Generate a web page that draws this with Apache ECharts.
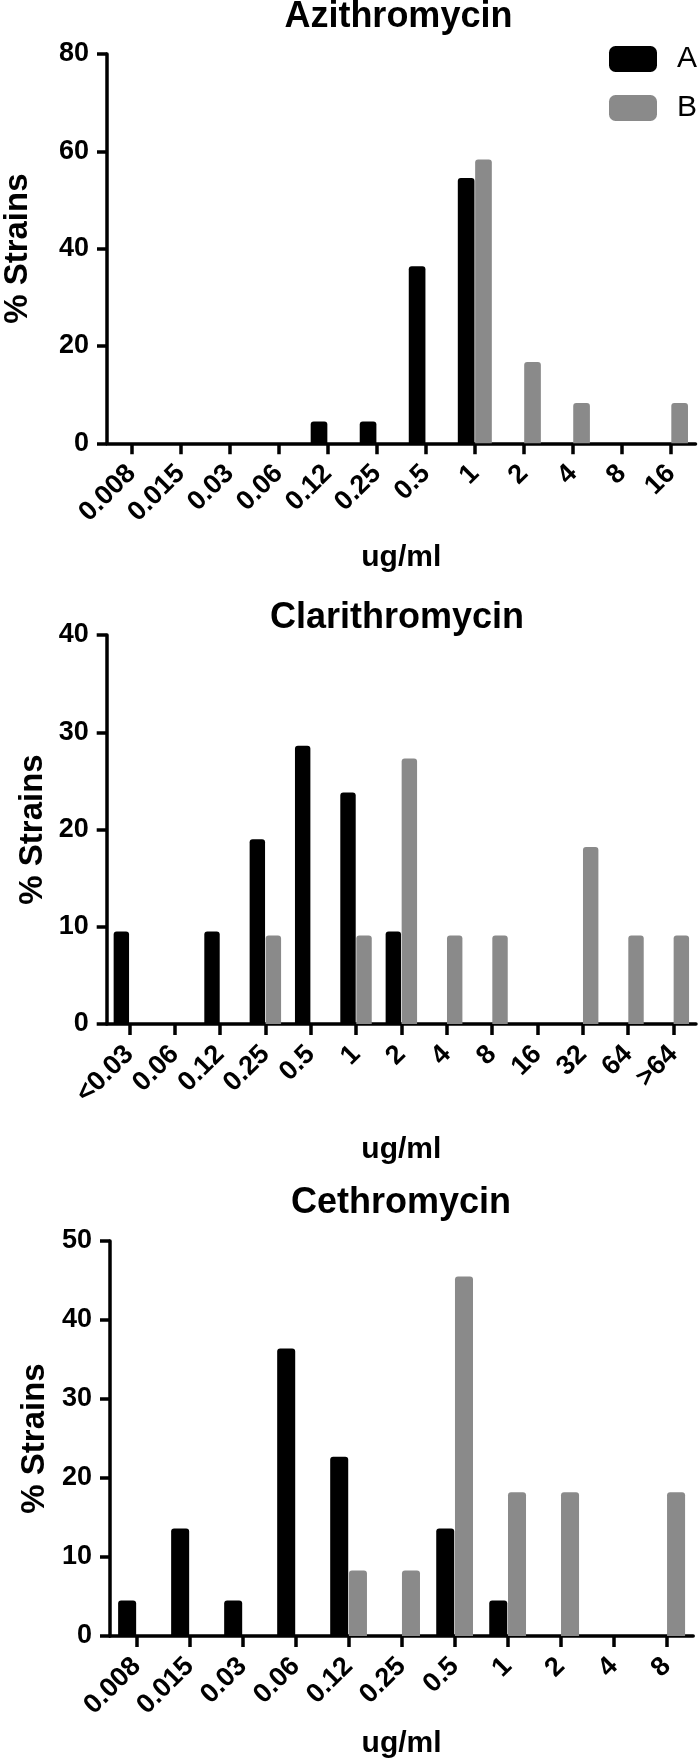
<!DOCTYPE html>
<html>
<head>
<meta charset="utf-8">
<script src="https://cdn.jsdelivr.net/npm/echarts@6/dist/echarts.min.js"></script>
<style>
html,body{margin:0;padding:0;background:#fff;}
#c{width:700px;height:1759px;}
</style>
</head>
<body>
<div id="c"></div>
<script>
// ---- data ----
const aziCategories = ['0.008','0.015','0.03','0.06','0.12','0.25','0.5','1','2','4','8','16'];
const aziA = [0, 0, 0, 0, 4.5, 4.5, 36.4, 54.5, 0, 0, 0, 0];
const aziB = [0, 0, 0, 0, 0, 0, 0, 58.3, 16.7, 8.3, 0, 8.3];

const clarCategories = ['<0.03','0.06','0.12','0.25','0.5','1','2','4','8','16','32','64','>64'];
const clarA = [9.5, 0, 9.5, 19.0, 28.6, 23.8, 9.5, 0, 0, 0, 0, 0, 0];
const clarB = [0, 0, 0, 9.1, 0, 9.1, 27.3, 9.1, 9.1, 0, 18.2, 9.1, 9.1];

const cethCategories = ['0.008','0.015','0.03','0.06','0.12','0.25','0.5','1','2','4','8'];
const cethA = [4.5, 13.6, 4.5, 36.4, 22.7, 0, 13.6, 4.5, 0, 0, 0];
const cethB = [0, 0, 0, 0, 8.3, 8.3, 45.5, 18.2, 18.2, 0, 18.2];

const titles = ['Azithromycin', 'Clarithromycin', 'Cethromycin'];
const yMax = [80, 40, 50];
const yInterval = [20, 10, 10];
const seriesNames = ['A', 'B'];
const xName = 'ug/ml';
const yName = '% Strains';

// ---- layout / style ----
const FONT = '"Liberation Sans", Arial, Helvetica, sans-serif';
const COLORS = ['#000000', '#8a8a8a'];
const layout = [
  {left: 107, right: 4.5, top: 54, height: 389.3, titleX: 398.4, titleTop: -1, gapX: 99, gapY: 73},
  {left: 106.7, right: 4, top: 635, height: 389, titleX: 397, titleTop: 600.4, gapX: 111, gapY: 57},
  {left: 110, right: 6.8, top: 1241, height: 395, titleX: 401, titleTop: 1185.5, gapX: 93, gapY: 59}
];
const cats = [aziCategories, clarCategories, cethCategories];
const dataA = [aziA, clarA, cethA];
const dataB = [aziB, clarB, cethB];

const axisLine = {show: true, lineStyle: {color: '#000', width: 3.5}};
const axisTick = {show: true, length: 10, lineStyle: {color: '#000', width: 3.5}};

const option = {
  animation: false,
  backgroundColor: '#fff',
  title: layout.map((l, i) => ({
    text: titles[i],
    left: l.titleX,
    top: l.titleTop,
    textAlign: 'center',
    padding: 0,
    textStyle: {fontFamily: FONT, fontSize: 36, fontWeight: 'bold', color: '#000'}
  })),
  legend: {
    data: seriesNames,
    orient: 'vertical',
    left: 609,
    top: 44,
    padding: 0,
    itemWidth: 48,
    itemHeight: 26,
    itemGap: 19,
    icon: 'roundRect',
    textStyle: {fontFamily: FONT, fontSize: 30, color: '#000', padding: [0, 0, 0, 15]}
  },
  grid: layout.map(l => ({left: l.left, right: l.right, top: l.top, height: l.height, containLabel: false, outerBoundsMode: 'none'})),
  xAxis: layout.map((l, i) => ({
    type: 'category',
    gridIndex: i,
    data: cats[i],
    boundaryGap: true,
    name: xName,
    nameLocation: 'middle',
    nameGap: l.gapX,
    nameMoveOverlap: false,
    nameTextStyle: {fontFamily: FONT, fontSize: 30, fontWeight: 'bold', color: '#000'},
    axisLine: axisLine,
    axisTick: Object.assign({alignWithLabel: true}, axisTick, {length: 11}),
    axisLabel: {interval: 0, rotate: 45, margin: 26, fontFamily: FONT, fontSize: 27, fontWeight: 'bold', color: '#000'},
    splitLine: {show: false}
  })),
  yAxis: layout.map((l, i) => ({
    type: 'value',
    gridIndex: i,
    min: 0,
    max: yMax[i],
    interval: yInterval[i],
    name: yName,
    nameLocation: 'middle',
    nameRotate: 90,
    nameGap: l.gapY,
    nameMoveOverlap: false,
    nameTextStyle: {fontFamily: FONT, fontSize: 33, fontWeight: 'bold', color: '#000'},
    axisLine: axisLine,
    axisTick: axisTick,
    axisLabel: {margin: 18, fontFamily: FONT, fontSize: 27, fontWeight: 'bold', color: '#000'},
    splitLine: {show: false}
  })),
  series: []
};

for (let i = 0; i < 3; i++) {
  [dataA[i], dataB[i]].forEach((d, k) => {
    option.series.push({
      type: 'bar',
      name: seriesNames[k],
      xAxisIndex: i,
      yAxisIndex: i,
      data: d,
      barWidth: '34%',
      barGap: '4%',
      itemStyle: {color: COLORS[k], borderRadius: [3, 3, 0, 0]}
    });
  });
}

const chart = echarts.init(document.getElementById('c'), null, {renderer: 'canvas'});
chart.setOption(option);
</script>
</body>
</html>
